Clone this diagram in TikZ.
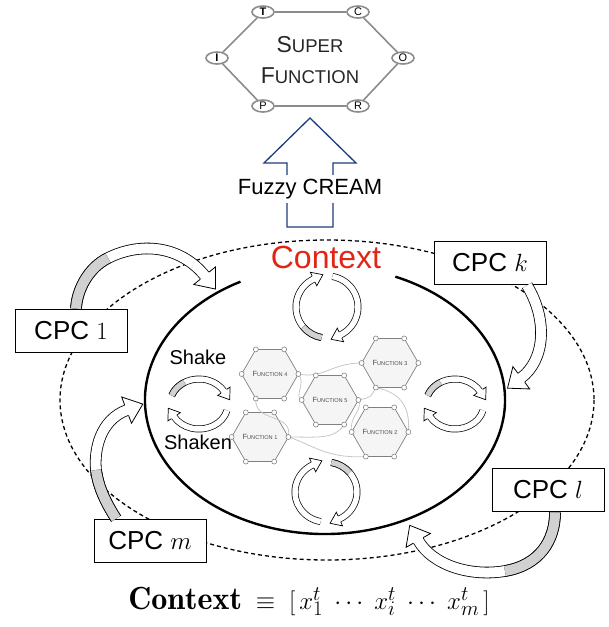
\documentclass[tikz,border=0pt]{standalone}
\usepackage{fontspec}
\newfontfamily\arial{Liberation Sans}
\usetikzlibrary{positioning,calc,shapes.geometric,decorations.markings}
\definecolor{navy}{RGB}{30,60,125}
\definecolor{ctxred}{RGB}{225,38,22}
\newcommand{\fnlabel}[1]{{\fontsize{7.5}{8}\selectfont F}{\fontsize{5.6}{8}\selectfont UNCTION #1}}

\begin{document}
\begin{tikzpicture}[x=1pt, y=-1pt,
    vtx/.style={draw=black!45, line width=1.6pt, fill=white, ellipse, inner sep=0pt,
        minimum width=22pt, minimum height=12pt, font=\arial\fontsize{11}{11}\selectfont},
    fn/.style={draw=black!50, fill=black!4, line width=0.7pt, regular polygon,
        regular polygon sides=6, minimum size=45pt, inner sep=0pt, outer sep=0pt,
        text=black!70, font=\arial},
    fdot/.style={draw=black!55, fill=white, circle, inner sep=0pt, minimum size=5pt, line width=0.5pt},
    link/.style={draw=black!22, line width=0.8pt},
    cpc/.style={draw, line width=0.8pt, fill=white, minimum width=112pt, minimum height=43pt,
        font=\arial\fontsize{26}{26}\selectfont},
    ring/.style={double=white, double distance=5.5pt, line width=0.7pt},
    ringtip/.style={postaction={decorate, decoration={markings, mark=at position 0.999 with
        {\filldraw[fill=white, line width=0.7pt] (-0.3pt,3.4pt) -- (-0.3pt,7.5pt) -- (10pt,0pt) -- (-0.3pt,-7.5pt) -- (-0.3pt,-3.4pt);}}}},
    band/.style={double=white, double distance=10pt, line width=0.8pt},
    bandtip/.style={postaction={decorate, decoration={markings, mark=at position 0.999 with
        {\filldraw[fill=white, line width=0.8pt] (-0.3pt,5.7pt) -- (-0.3pt,14pt) -- (17pt,0pt) -- (-0.3pt,-14pt) -- (-0.3pt,-5.7pt);}}}},
  ]
  \useasboundingbox (0,0) rectangle (609,627);

  %super function
  \node[vtx, font=\arial\bfseries\fontsize{11}{11}\selectfont] (T) at (263,12) {T};
  \node[vtx] (C) at (358,12) {C};
  \node[vtx] (O) at (403,58) {O};
  \node[vtx] (R) at (358,106) {R};
  \node[vtx] (P) at (263,106) {P};
  \node[vtx, font=\arial\bfseries\fontsize{11}{11}\selectfont] (I) at (217,58) {I};
  \draw[black!45, line width=1.6pt] (T) -- (C) -- (O) -- (R) -- (P) -- (I) -- (T);
  \node[text=black!85, align=center, font=\arial\fontsize{23}{31}\selectfont] (sfn) at (310,60)
      {S{\fontsize{18.5}{31}\selectfont UPER}\\F{\fontsize{18.5}{31}\selectfont UNCTION}};

  %fuzzy cream arrow
  \draw[navy, line width=1.3pt] (310,118) -- (356,163) -- (333,163) -- (333,227)
      -- (287,227) -- (287,163) -- (264,163) -- cycle;
  \node[fill=white, inner xsep=1pt, inner ysep=4pt, font=\arial\fontsize{22}{22}\selectfont]
      (fuzzy) at (310,189) {Fuzzy CREAM};

  %context
  \coordinate (env) at (327,400);
  \coordinate (ctr) at (325,400);
  \draw[line width=1.3pt, dash pattern=on 4pt off 3pt] (env) ellipse [x radius=267, y radius=160];
  \draw[line width=2.4pt] (ctr) ++(293:180 and 134)
      arc[start angle=293, end angle=602, x radius=180, y radius=134];
  \node[text=ctxred, font=\arial\fontsize{32}{32}\selectfont] (ctxlbl) at (326,257) {Context};

  %functions
  \node[fn] (f4) at (270,374) {\fnlabel{4}};
  \node[fn] (f5) at (330,400) {\fnlabel{5}};
  \node[fn] (f3) at (390,363) {\fnlabel{3}};
  \node[fn] (f2) at (380,432) {\fnlabel{2}};
  \node[fn] (f1) at (260,437) {\fnlabel{1}};
  \path[link]
    (f4.0) .. controls +(25,5) and +(-30,0) .. (f3.180)
    (f4.0) .. controls +(8,10) and +(-8,-5) .. (f5.180)
    (f5.0) .. controls +(15,-3) and +(-5,8) .. (f3.240)
    (f5.0) .. controls +(5,10) and +(-3,-15) .. (f2.180)
    (f3.240) .. controls +(25,5) and +(2,-25) .. (f2.0)
    (f1.0) .. controls +(30,0) and +(-10,15) .. (f5.300)
    (f1.0) .. controls +(25,8) and +(-40,2) .. (f2.240)
    (f4.240) .. controls +(-2,25) and +(5,-25) .. (f1.0);
  \foreach \i in {1,...,5}
    \foreach \a in {0,60,...,300}
      \node[fdot] at (f\i.\a) {};

  %shake cycles
  \coordinate (cycT) at (327,307);
  \coordinate (cycB) at (326,492);
  \coordinate (cycL) at (199,404);
  \coordinate (cycR) at (455,404);
  \draw[ring, ringtip] (cycT) ++(100:31) arc[start angle=100, end angle=245, radius=31];
  \draw[ring, ringtip] (cycT) ++(280:31) arc[start angle=280, end angle=425, radius=31];
  \draw[ring, double=black!18] (cycT) ++(100:31) arc[start angle=100, end angle=140, radius=31];
  \draw[ring, ringtip] (cycB) ++(100:31 and 30) arc[start angle=100, end angle=245, x radius=31, y radius=30];
  \draw[ring, ringtip] (cycB) ++(280:31 and 30) arc[start angle=280, end angle=425, x radius=31, y radius=30];
  \draw[ring, double=black!18] (cycB) ++(280:31 and 30) arc[start angle=280, end angle=320, x radius=31, y radius=30];
  \foreach \c in {cycL, cycR} {
    \draw[ring, ringtip] (\c) ++(200:29 and 25) arc[start angle=200, end angle=330, x radius=29, y radius=25];
    \draw[ring, ringtip] (\c) ++(15:29 and 25) arc[start angle=15, end angle=150, x radius=29, y radius=25];
    \draw[ring, double=black!18] (\c) ++(200:29 and 25) arc[start angle=200, end angle=240, x radius=29, y radius=25];
  }
  \node[font=\arial\fontsize{20}{20}\selectfont] (shake) at (198,357) {Shake};
  \node[font=\arial\fontsize{20}{20}\selectfont] (shaken) at (198,442) {Shaken};

  %cpc boxes
  \node[cpc] (cpc1) at (71,331) {CPC $1$};
  \node[cpc] (cpck) at (490,263) {CPC $k$};
  \node[cpc] (cpcm) at (150,541) {CPC $m$};
  \node[cpc] (cpcl) at (548,490) {CPC $l$};

  %cpc arrows
  \coordinate (h1) at (205,276);
  \coordinate (hk) at (521,378);
  \coordinate (hm) at (127,410);
  \coordinate (hl) at (418,540);
  \draw[band, bandtip] ([xshift=5pt, yshift=0.5pt]cpc1.north) .. controls (77,290) and (88,268) .. (108,258)
      .. controls (140,242) and (180,245) .. (h1);
  \draw[band, double=black!18] ([xshift=5pt, yshift=0.5pt]cpc1.north) .. controls (77,290) and (88,268) .. (108,258);
  \draw[band, bandtip] ([xshift=37pt, yshift=-0.5pt]cpck.south) .. controls (548,320) and (545,360) .. (hk);
  \draw[band, bandtip] ([xshift=-34pt, yshift=0.5pt]cpcm.north) .. controls (104,500) and (98,485) .. (96,470)
      .. controls (94,450) and (100,420) .. (hm);
  \draw[band, double=black!18] ([xshift=-34pt, yshift=0.5pt]cpcm.north) .. controls (104,500) and (98,485) .. (96,470);
  \draw[band, bandtip] ([xshift=7pt, yshift=-0.5pt]cpcl.south) .. controls (555,540) and (540,565) .. (505,571)
      .. controls (470,577) and (432,565) .. (hl);
  \draw[band, double=black!18] ([xshift=7pt, yshift=-0.5pt]cpcl.south) .. controls (555,540) and (540,565) .. (505,571);

  %formula
  \node[font=\fontsize{32}{32}\selectfont] (formula) at (309,601)
      {$\mathbf{Context}\;\equiv\;[\,x_1^t\;\cdots\;x_i^t\;\cdots\;x_m^t\,]$};
\end{tikzpicture}
\end{document}
